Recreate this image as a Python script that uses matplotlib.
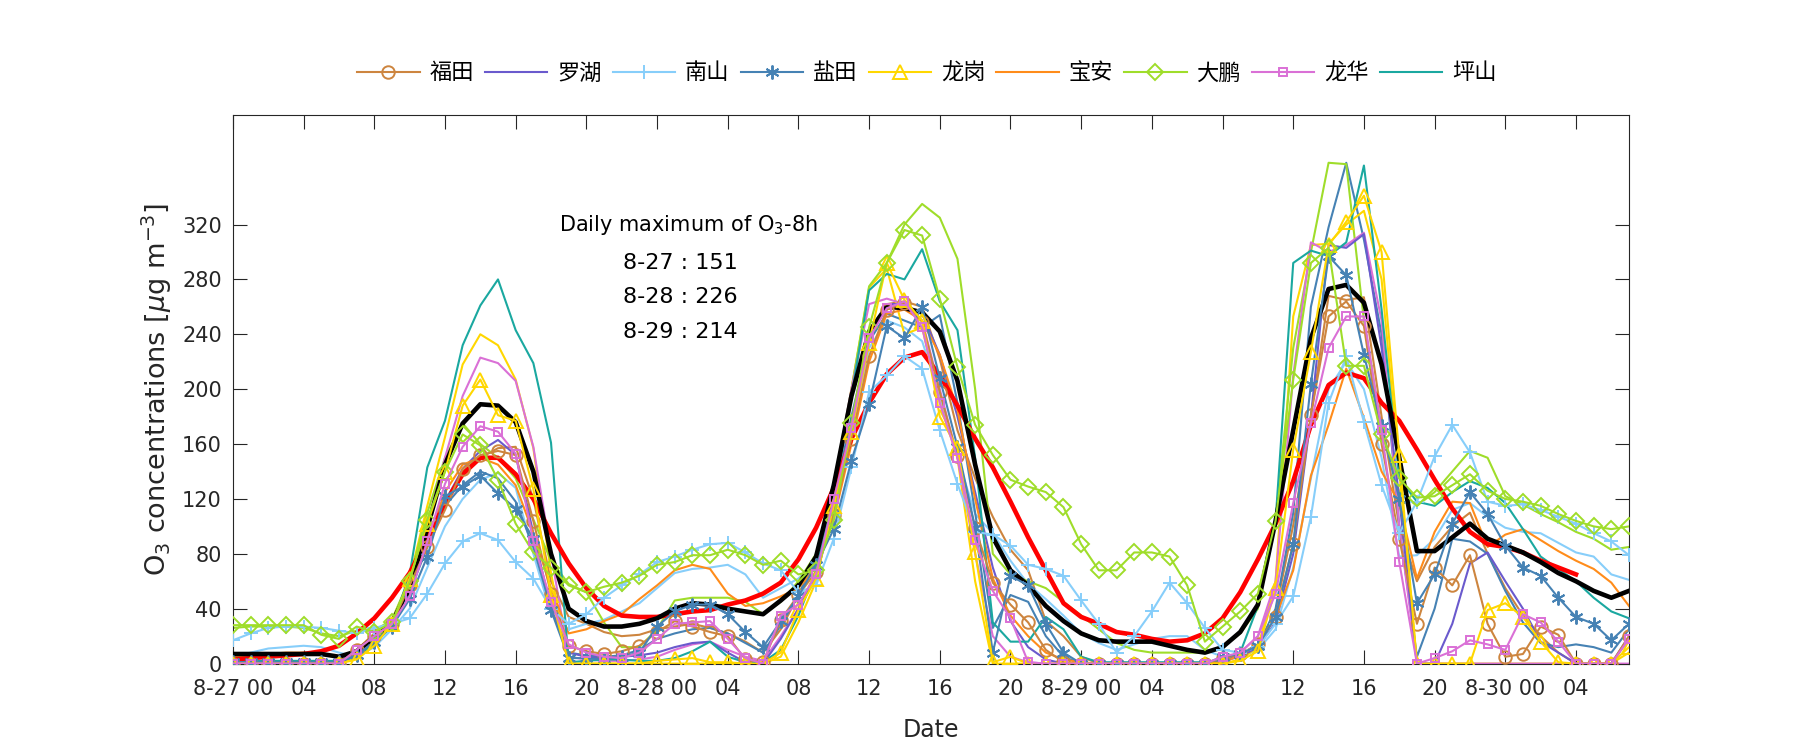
import numpy as np
import matplotlib
matplotlib.use("Agg")
import matplotlib.pyplot as plt

plt.rcParams['font.family'] = ['DejaVu Sans', 'Noto Sans CJK SC']
plt.rcParams['mathtext.fontset'] = 'dejavusans'

hours = np.arange(80)

futian_obs = [0,0,0,0,0,0,0,10,20,29,
              57,85,112,142,152,155,152,104,51,13,
              9,7,9,13,23,31,27,23,20,3,
              1,32,50,67,108,164,224,258,263,249,
              198,151,99,59,43,30,10,1,0,0,
              0,0,0,0,0,0,4,7,14,34,
              87,181,253,264,246,160,91,29,70,57,
              79,29,5,7,27,21,0,0,0,20]
futian_sim = [0,0,0,0,0,0,1,10,22,32,
              60,90,118,140,150,157,158,120,60,34,
              29,23,20,21,25,27,29,26,22,16,
              8,25,50,72,115,175,240,262,264,260,
              222,170,135,107,83,68,31,20,5,0,
              0,0,0,0,0,0,2,6,14,38,
              101,180,268,265,267,180,100,60,85,100,
              110,80,55,35,20,8,0,0,0,18]
luohu = [1,1,1,1,1,1,1,6,16,28,
         52,88,118,142,155,163,152,95,40,8,
         5,4,5,6,8,12,15,16,8,1,
         0,18,40,64,110,172,240,262,262,255,
         225,180,125,70,31,12,3,0,0,0,
         0,0,0,0,0,0,2,5,12,30,
         80,180,305,303,313,230,120,0,0,29,
         73,81,60,40,16,8,0,0,0,20]
nanshan_obs = [17,22,26,27,27,26,24,22,26,29,
               33,51,73,89,95,90,74,62,40,29,
               36,48,57,65,74,78,83,87,88,81,
               73,68,52,57,91,143,198,210,224,215,
               170,131,96,94,86,72,69,64,46,29,
               8,20,38,59,44,26,10,8,12,29,
               49,107,190,224,176,130,95,118,151,174,
               154,118,115,116,112,107,102,95,89,79]
nanshan_sim = [5,8,11,12,13,12,8,5,12,25,
               40,70,100,120,134,139,128,80,36,25,
               29,32,38,44,55,66,69,70,72,65,
               48,55,62,75,115,170,230,250,245,235,
               195,150,109,95,75,58,47,35,22,15,
               10,14,18,20,20,10,5,5,10,25,
               70,135,200,220,200,150,78,79,91,112,
               117,107,99,96,95,88,81,78,65,61]
yantian_obs = [1,1,1,1,1,1,1,6,16,27,
               47,78,122,129,137,124,113,91,39,4,
               4,3,5,8,27,38,43,43,36,23,
               12,31,49,72,98,148,189,246,237,260,
               208,158,99,8,64,57,29,8,0,0,
               0,0,0,0,0,0,5,7,13,34,
               87,204,297,283,225,173,120,44,65,102,
               125,109,86,70,64,48,34,29,17,29]
yantian_sim = [1,1,1,1,1,1,2,8,18,30,
               52,85,115,130,140,135,118,85,40,8,
               6,5,6,10,18,22,25,26,22,15,
               8,28,50,78,120,180,235,255,250,245,
               254,190,110,26,50,45,20,5,0,0,
               0,0,0,0,0,0,3,6,12,40,
               110,260,318,365,309,240,100,5,40,91,
               89,80,53,30,15,12,14,12,8,25]
longgang_obs = [0,0,0,0,0,0,0,3,13,29,
                62,102,140,188,207,181,177,127,50,0,
                0,0,0,0,2,3,4,1,1,0,
                0,8,39,62,115,169,234,292,265,250,
                180,157,81,1,5,0,0,0,0,0,
                0,0,0,0,0,0,0,2,9,55,
                156,227,305,322,341,300,152,0,0,0,
                0,39,44,34,16,1,0,0,0,12]
longgang_sim = [0,0,0,0,0,0,0,4,14,30,
                62,115,165,218,240,232,207,157,66,0,
                0,0,0,0,0,0,0,0,0,0,
                0,5,30,60,120,200,274,288,240,245,
                190,150,60,0,0,0,0,0,0,0,
                0,0,0,0,0,0,0,3,12,60,
                253,305,306,320,330,280,140,0,0,0,
                0,0,0,0,0,0,0,0,0,8]
baoan = [5,6,7,8,8,7,5,8,18,30,
         55,90,125,145,150,145,130,95,55,22,
         25,31,36,47,57,68,72,69,51,42,
         44,49,55,70,105,160,220,255,258,250,
         225,185,120,62,35,20,8,3,1,0,
         0,0,0,0,0,0,1,6,14,34,
         68,137,174,215,179,140,117,62,96,118,
         117,85,94,98,90,82,75,69,59,42]
dapeng_obs = [28,28,28,28,28,21,18,27,23,30,
              60,105,140,167,159,134,102,81,70,57,
              52,56,59,64,72,74,79,79,83,79,
              72,75,65,68,105,175,245,292,316,312,
              266,216,174,152,134,129,125,114,87,68,
              68,81,81,78,57,16,27,38,51,104,
              207,292,303,217,217,167,135,121,122,130,
              138,126,120,118,115,109,104,100,98,100]
dapeng_sim = [26,27,27,27,26,22,20,24,24,32,
              62,110,150,175,160,150,135,105,75,58,
              52,30,12,12,25,46,48,48,48,45,
              36,45,60,80,130,200,275,292,320,335,
              325,295,200,80,65,60,55,45,35,25,
              15,10,8,8,8,8,12,22,40,105,
              230,300,365,364,250,170,125,115,125,140,
              155,150,122,116,109,103,96,91,83,85]
longhua_obs = [0,0,0,0,0,0,0,10,20,29,
               49,89,131,158,173,169,153,89,45,14,
               8,5,4,8,18,29,30,31,18,4,
               0,35,43,65,120,172,237,259,264,245,
               190,150,90,53,33,1,0,0,0,0,
               0,0,0,0,0,0,5,8,20,51,
               117,175,230,253,253,170,74,0,4,9,
               17,14,10,36,30,16,0,0,0,18]
longhua_sim = [0,0,0,0,0,0,1,8,18,30,
               55,100,150,195,223,219,206,158,80,5,
               3,2,2,3,5,10,14,16,10,5,
               2,20,40,65,130,200,262,266,262,250,
               200,150,80,20,5,1,0,0,0,0,
               0,0,0,0,0,0,3,8,20,60,
               210,307,300,305,314,250,100,0,0,0,
               0,0,0,0,0,0,0,0,0,0]
pingshan = [2,2,2,2,2,2,2,5,15,27,
            65,143,177,232,261,280,243,219,161,1,
            2,3,3,2,2,4,9,16,5,1,
            1,10,35,68,122,195,272,284,280,302,
            264,243,150,30,16,16,34,25,5,1,
            1,1,1,1,1,1,3,8,42,104,
            292,301,297,307,363,258,135,118,115,125,
            133,128,117,98,78,69,60,48,38,33]
mean_obs = [7,7,7,7,7,7,5,9,19,30,
            55,99,145,175,189,188,176,140,80,40,
            31,27,27,29,33,40,44,43,40,38,
            36,46,57,78,130,195,242,260,259,256,
            242,206,145,92,68,57,42,31,22,17,
            16,16,16,13,10,8,12,23,43,104,
            170,237,273,276,263,218,150,82,82,92,
            102,91,86,81,74,66,60,53,48,53]
red_curve = [3,4,5,6,7,9,13,22,33,48,
             66,91,117,138,150,150,138,120,95,73,
             55,42,35,34,34,36,38,39,43,46,
             51,59,76,99,128,164,190,211,223,227,
             210,188,164,143,118,92,68,44,34,29,
             23,21,18,16,17,22,33,52,76,102,
             133,174,203,212,208,190,177,156,134,113,
             96,87,85,81,75,70,65]

stations = ['福田', '罗湖', '南山', '盐田', '龙岗', '宝安', '大鹏', '龙华', '坪山']
tick_hours = [0,4,8,12,16,20,24,28,32,36,40,44,48,52,56,60,64,68,72,76]
tick_labels = ['8-27 00','04','08','12','16','20','8-28 00','04','08','12','16','20',
               '8-29 00','04','08','12','16','20','8-30 00','04']
daily_max = [('8-27', 151), ('8-28', 226), ('8-29', 214)]

colors = {'福田': '#CD853F', '罗湖': '#6A5ACD', '南山': '#87CEFA', '盐田': '#4682B4',
          '龙岗': '#FFD700', '宝安': '#FF8C1A', '大鹏': '#9FDD2A', '龙华': '#DA70D6',
          '坪山': '#1AA8A0'}

fig = plt.figure(figsize=(18, 7.5), dpi=100)
ax = fig.add_axes([0.1294, 0.1152, 0.7756, 0.7318])

lw = 1.5
for name, data in [('福田', futian_sim), ('南山', nanshan_sim), ('盐田', yantian_sim),
                   ('龙岗', longgang_sim), ('大鹏', dapeng_sim), ('龙华', longhua_sim)]:
    ax.plot(hours, data, color=colors[name], lw=lw, zorder=2)

handles = {}
for name, data in [('罗湖', luohu), ('宝安', baoan), ('坪山', pingshan)]:
    h, = ax.plot(hours, data, color=colors[name], lw=lw, zorder=2)
    handles[name] = h

ax.plot(hours[:len(red_curve)], red_curve, color='#FF0000', lw=3.3, zorder=3)
ax.plot(hours, mean_obs, color='black', lw=3.3, zorder=3.5)

marker_specs = [('福田', futian_obs, 'o', 9), ('南山', nanshan_obs, '+', 10),
                ('盐田', yantian_obs, (6, 2, 0), 10), ('龙岗', longgang_obs, '^', 10),
                ('大鹏', dapeng_obs, 'D', 8), ('龙华', longhua_obs, 's', 6)]
for name, data, mk, ms in marker_specs:
    h, = ax.plot(hours, data, color=colors[name], lw=lw, marker=mk, ms=ms,
                 mfc='none', mec=colors[name], mew=1.4, zorder=4)
    handles[name] = h

ax.set_xlim(0, 79)
ax.set_ylim(0, 400)
ax.set_yticks(np.arange(0, 321, 40))
ax.set_xticks(tick_hours)
ax.set_xticklabels(tick_labels)
ax.tick_params(direction='in', length=10, width=0.8, top=True, right=True,
               labelsize=15, colors='#262626')
ax.tick_params(axis='x', pad=11)
ax.tick_params(axis='y', pad=8)
for sp in ax.spines.values():
    sp.set_linewidth(0.8)
    sp.set_color('#262626')

ax.set_xlabel('Date', fontsize=17, color='#262626', labelpad=14)
ax.set_ylabel(r'O$_3$ concentrations [$\mu$g m$^{-3}$]', fontsize=19.5, color='#262626',
              labelpad=6)

ax.text(25.8, 320, r'Daily maximum of O$_3$-8h', fontsize=15, ha='center', va='center')
for i, (d, v) in enumerate(daily_max):
    ax.text(25.3, 292 - i * 25, f'{d} : {v}', fontsize=16, ha='center', va='center')

fig.legend([handles[s] for s in stations], stations, loc='center',
           bbox_to_anchor=(0.515, 0.903), ncol=9, frameon=False, fontsize=16,
           handlelength=2.8, handletextpad=0.45, columnspacing=0.5)

fig.savefig('out.png', dpi=100)
